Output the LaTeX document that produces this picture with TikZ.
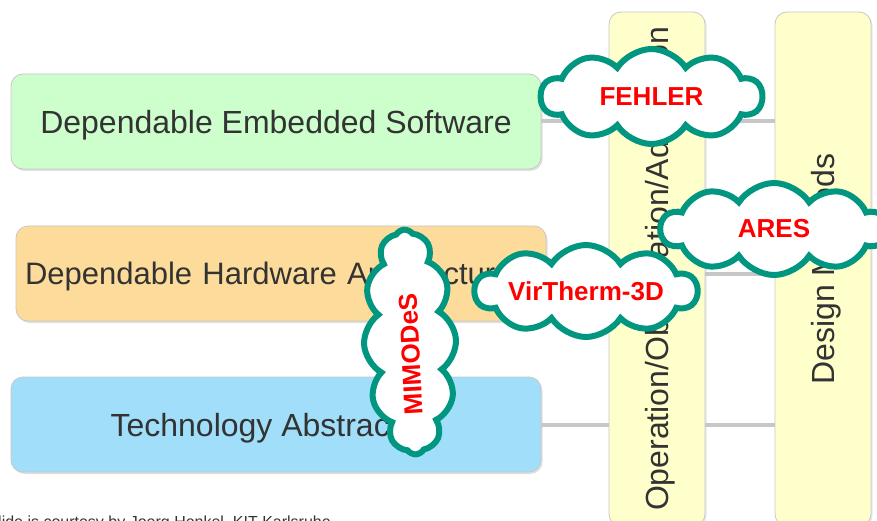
\documentclass[tikz,border=0pt]{standalone}
\usepackage{fontspec}
\setmainfont{Liberation Sans}
\usetikzlibrary{shapes.symbols,shadows}

\definecolor{swgreen}{HTML}{CCFFCC}
\definecolor{hworange}{HTML}{FDDC9B}
\definecolor{techblue}{HTML}{A0DEFA}
\definecolor{colyellow}{HTML}{FFFFCC}
\definecolor{cloudteal}{RGB}{0,150,128}
\definecolor{textgray}{HTML}{333333}

\tikzset{
  layer/.style={draw=black!22, line width=0.8pt, rounded corners=12pt,
    minimum width=530pt, minimum height=95pt, text=textgray, text depth=0pt,
    font=\fontsize{32}{38}\selectfont,
    drop shadow={opacity=0.25, shadow xshift=1.5pt, shadow yshift=-2pt}},
  column/.style={draw=black!22, line width=0.8pt, fill=colyellow,
    rounded corners=12pt, rotate=90, minimum width=514pt, minimum height=96pt,
    text=textgray, text depth=0pt, font=\fontsize{32}{38}\selectfont,
    drop shadow={opacity=0.2, shadow xshift=1.5pt, shadow yshift=-1.5pt}},
  link/.style={draw=black!22, line width=4pt},
  project/.style={cloud, cloud puffs=10, cloud puff arc=115, cloud ignores aspect,
    draw=cloudteal, line width=6pt, fill=white, text=red, inner sep=0pt,
    font=\bfseries\fontsize{26}{30}\selectfont}
}

\begin{document}
\begin{tikzpicture}[x=1pt,y=-1pt]
\useasboundingbox (0,0) rectangle (877,521);
\clip (0,0) rectangle (877,521);

% the three layers
\node[layer, fill=swgreen] (software) at (276,121.5) {Dependable Embedded Software};
\node[layer, fill=hworange, font=\fontsize{31}{37}\selectfont,
  text width=512pt, inner xsep=9pt, align=left] (hardware) at (281,273.5)
  {Dependable Hardware Architecture};
\node[layer, fill=techblue] (technology) at (276,424.5) {Technology Abstraction};

% the two cross-cutting columns
\node[column] (operation) at (657,269) {Operation/Observation/Adaptation};
\node[column] (design) at (823,269) {Design Methods};

% links from each layer over to the design column
\foreach \lay in {software,hardware,technology}{
  \draw[link] (\lay.east) -- (\lay.east -| operation.north);
  \draw[link] (\lay.east -| operation.south) -- (\lay.east -| design.north);
}

% projects
\node[project, minimum width=221pt, minimum height=95pt] (fehler) at (651.5,96.5) {FEHLER};
\node[project, minimum width=226pt, minimum height=92pt] (ares) at (774,229) {ARES};
\node[project, minimum width=222pt, minimum height=92pt] (virtherm) at (586,291) {VirTherm-3D};
\node[project, cloud puffs=12, rotate=93, minimum width=225pt, minimum height=92pt]
  (mimodes) at (410,342) {MIMODeS\hspace*{24pt}};

\node[anchor=base west, text=textgray, font=\fontsize{16}{19}\selectfont] (credit)
  at (-16,527.5) {Slide is courtesy by Joerg Henkel, KIT Karlsruhe};
\end{tikzpicture}
\end{document}
